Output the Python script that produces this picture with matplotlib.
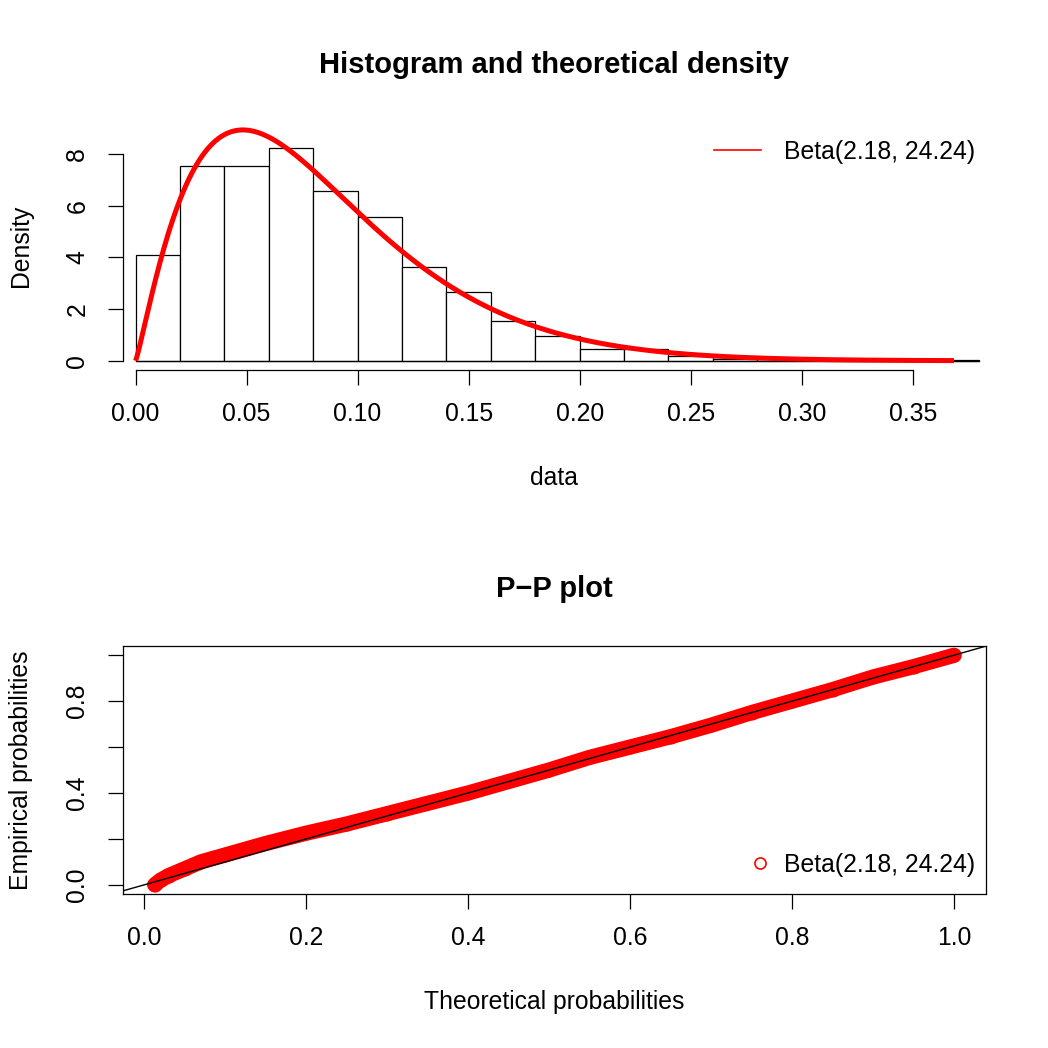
import math
import numpy as np
import matplotlib
matplotlib.use("Agg")
import matplotlib.pyplot as plt
from matplotlib.lines import Line2D

plt.rcParams['font.family'] = ['Liberation Sans', 'DejaVu Sans']

# ---------------- data ----------------
bin_edges = [0.00, 0.02, 0.04, 0.06, 0.08, 0.10, 0.12, 0.14, 0.16, 0.18, 0.20,
             0.22, 0.24, 0.26, 0.28, 0.30, 0.32, 0.34, 0.36, 0.38]
bin_density = [4.10, 7.55, 7.52, 8.22, 6.58, 5.56, 3.61, 2.67, 1.55, 0.97, 0.47,
               0.47, 0.18, 0.08, 0.05, 0.0, 0.0, 0.0, 0.02]
shape1, shape2 = 2.18, 24.24
data_min, data_max = 0.0086, 0.3686
hist_xticks = [0.00, 0.05, 0.10, 0.15, 0.20, 0.25, 0.30, 0.35]
hist_yticks = [0, 2, 4, 6, 8]

pp_theoretical = [0.0128, 0.02, 0.03, 0.05, 0.07, 0.10, 0.15, 0.20, 0.25, 0.30,
                  0.35, 0.40, 0.45, 0.50, 0.55, 0.60, 0.65, 0.70, 0.75, 0.80,
                  0.85, 0.90, 0.95, 1.00]
pp_empirical = [0.000, 0.020, 0.040, 0.070, 0.100, 0.130, 0.180, 0.225, 0.265, 0.310,
                0.355, 0.400, 0.450, 0.500, 0.555, 0.600, 0.645, 0.695, 0.750, 0.800,
                0.850, 0.905, 0.950, 0.9995]
pp_ticks = [0.0, 0.2, 0.4, 0.6, 0.8, 1.0]
legend_label = "Beta(2.18, 24.24)"

# ---------------- figure ----------------
W = H = 1048
fig = plt.figure(figsize=(W / 100, H / 100), dpi=100)
FS = 17.8
TFS = 21
TICKLEN = 10.5


def fig_rect(x0, x1, ytop, ybot):
    return [x0 / W, 1 - ybot / H, (x1 - x0) / W, (ybot - ytop) / H]


# ---- top: histogram + density ----
ax1 = fig.add_axes(fig_rect(122.7, 986, 120.7, 370))
widths = np.diff(bin_edges)
ax1.bar(bin_edges[:-1], bin_density, width=widths, align='edge',
        facecolor='white', edgecolor='black', linewidth=0.9)
ax1.plot([bin_edges[0], bin_edges[-1]], [0, 0], color='black', lw=0.9)

xs = np.linspace(0.0, data_max, 600)
lnB = math.lgamma(shape1) + math.lgamma(shape2) - math.lgamma(shape1 + shape2)
safe = np.where(xs > 0, xs, 1.0)
dens = np.exp((shape1 - 1) * np.log(safe) + (shape2 - 1) * np.log1p(-xs) - lnB)
dens[xs == 0] = 0.0
ax1.plot(xs, dens, color='red', lw=3.6, solid_capstyle='butt')

rng_x = data_max - data_min
ax1.set_xlim(data_min - 0.04 * rng_x, data_max + 0.04 * rng_x)
ymax = dens.max()
ax1.set_ylim(-0.04 * ymax, 1.04 * ymax)

for s in ['top', 'right']:
    ax1.spines[s].set_visible(False)
ax1.spines['left'].set_bounds(hist_yticks[0], hist_yticks[-1])
ax1.spines['bottom'].set_bounds(hist_xticks[0], hist_xticks[-1])
ax1.spines['left'].set_linewidth(0.9)
ax1.spines['bottom'].set_linewidth(0.9)
ax1.set_xticks(hist_xticks)
ax1.set_xticklabels([f"{v:.2f}" for v in hist_xticks])
ax1.set_yticks(hist_yticks)
ax1.set_yticklabels([str(v) for v in hist_yticks], rotation=90, va='center')
ax1.tick_params(axis='both', labelsize=FS, length=TICKLEN, width=0.9, direction='out')
ax1.tick_params(axis='x', pad=12.5)
ax1.tick_params(axis='y', pad=13.5)
ax1.set_xlabel("data", fontsize=FS, labelpad=29)
ax1.set_ylabel("Density", fontsize=FS, labelpad=23)
ax1.set_title("Histogram and theoretical density", fontsize=TFS,
              fontweight='bold', pad=34)
ax1.legend([Line2D([0], [0], color='red', lw=1.2)], [legend_label],
           loc='center right', bbox_to_anchor=(0.9873, 0.8745), frameon=False,
           fontsize=FS, handlelength=1.9, handletextpad=0.93,
           borderpad=0, borderaxespad=0)

# ---- bottom: P-P plot ----
ax2 = fig.add_axes(fig_rect(122.7, 986, 646, 894))
ax2.plot(pp_theoretical, pp_empirical, color='red', lw=11, solid_capstyle='round',
         solid_joinstyle='round')
ax2.plot(pp_theoretical, pp_empirical, linestyle='none', marker='o', ms=9,
         mfc='red', mec='red')
lo = min(pp_theoretical)
hi = max(pp_theoretical)
r = hi - lo
ax2.set_xlim(lo - 0.04 * r, hi + 0.04 * r)
ax2.set_ylim(-0.04, 1.04)
ax2.axline((0, 0), slope=1, color='black', lw=1.0)
ax2.set_xticks(pp_ticks)
ax2.set_xticklabels([f"{v:.1f}" for v in pp_ticks])
ax2.set_yticks(pp_ticks)
ax2.set_yticklabels([f"{v:.1f}" if i % 2 == 0 else "" for i, v in enumerate(pp_ticks)],
                    rotation=90, va='center')
for s in ax2.spines.values():
    s.set_linewidth(0.9)
ax2.tick_params(axis='both', labelsize=FS, length=TICKLEN, width=0.9, direction='out')
ax2.tick_params(axis='x', pad=12.5)
ax2.tick_params(axis='y', pad=13.5)
ax2.set_xlabel("Theoretical probabilities", fontsize=FS, labelpad=29)
ax2.set_ylabel("Empirical probabilities", fontsize=FS, labelpad=23)
ax2.set_title("P\u2212P plot", fontsize=TFS, fontweight='bold', pad=35.5)
ax2.legend([Line2D([0], [0], linestyle='none', marker='o', ms=8,
                   mfc='none', mec='red', mew=1.2)], [legend_label],
           loc='center right', bbox_to_anchor=(0.9873, 0.117), frameon=False,
           fontsize=FS, handlelength=1.0, handletextpad=0.47,
           borderpad=0, borderaxespad=0)

fig.savefig("out.png", dpi=100)
